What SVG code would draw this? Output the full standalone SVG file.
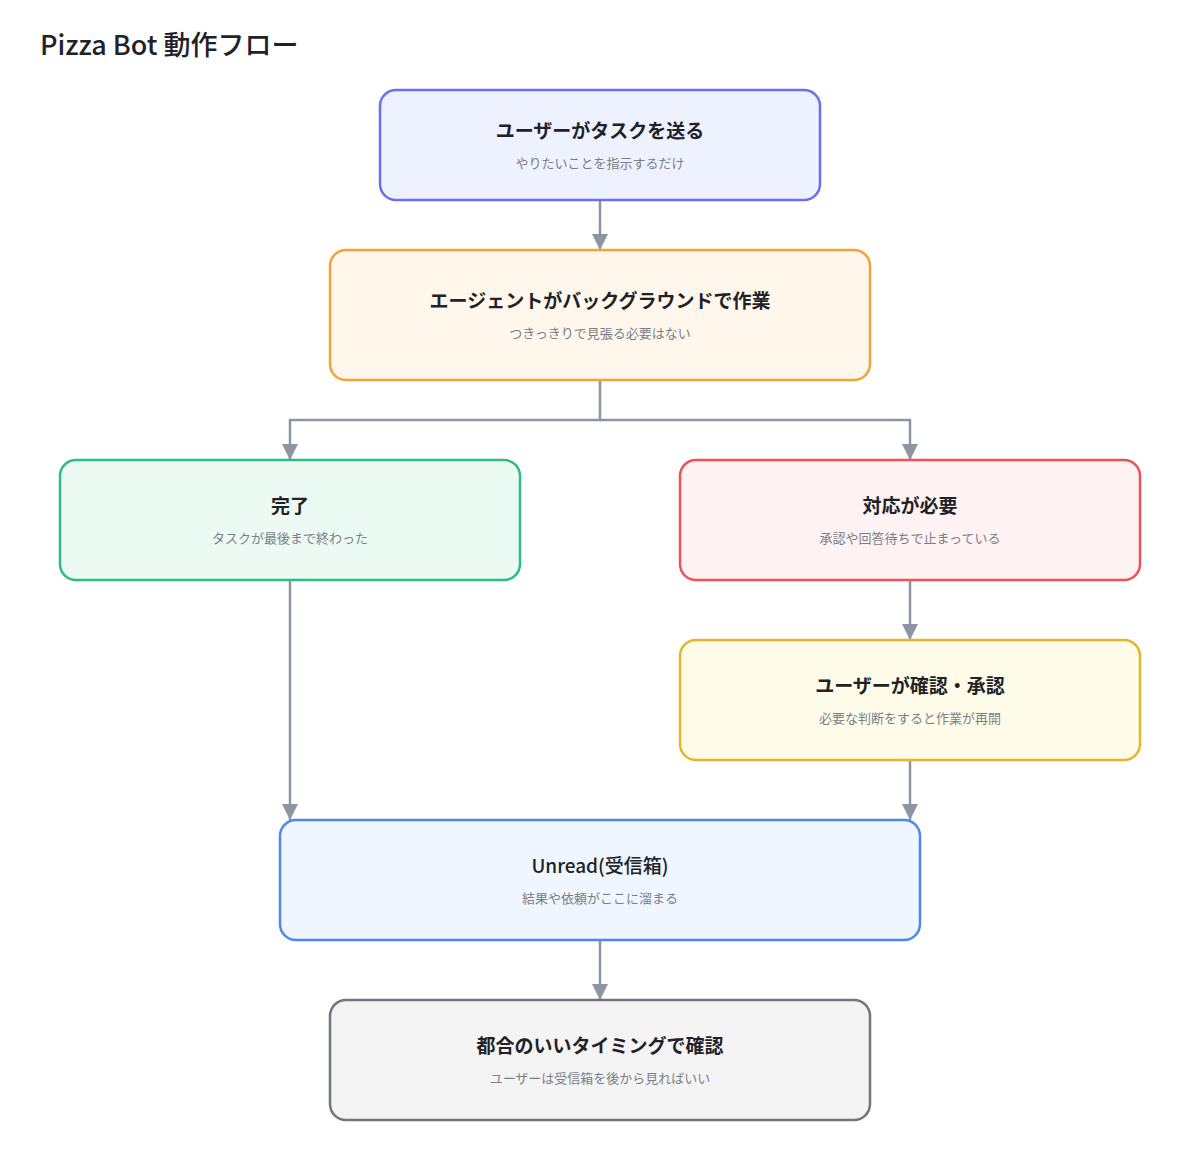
<svg xmlns="http://www.w3.org/2000/svg" width="1200" height="1150" viewBox="0 0 1200 1150">
<style>
.t{font-family:"Noto Sans CJK JP","Noto Sans",sans-serif;font-size:19px;font-weight:bold;fill:#1f2328;text-anchor:middle}
.s{font-family:"Noto Sans CJK JP","Noto Sans",sans-serif;font-size:13px;fill:#7a7f87;text-anchor:middle}
.e{fill:none;stroke:#8c96a3;stroke-width:2.5}
rect{stroke-width:2.5}
</style>
<defs><marker id="a" viewBox="0 0 10 10" refX="10" refY="5" markerWidth="6.5" markerHeight="6.5" markerUnits="userSpaceOnUse" orient="auto"><path d="M0,0L10,5L0,10z" fill="#8c96a3" transform="scale(1)"/></marker>
<marker id="b" viewBox="0 0 16 16" refX="16" refY="8" markerWidth="16" markerHeight="16" markerUnits="userSpaceOnUse" orient="auto"><path d="M0,0L16,8L0,16z" fill="#8c96a3"/></marker></defs>
<rect width="1200" height="1150" fill="#fff"/>
<text x="40" y="55" style="font-family:'Noto Sans CJK JP','Noto Sans',sans-serif;font-size:27px;font-weight:500" fill="#1f2328">Pizza Bot 動作フロー</text>
<g id="edges">
<path class="e" d="M600,200V250" marker-end="url(#b)"/>
<path class="e" d="M600,380V420H290V460" marker-end="url(#b)"/>
<path class="e" d="M600,420H910V460" marker-end="url(#b)"/>
<path class="e" d="M910,580V640" marker-end="url(#b)"/>
<path class="e" d="M290,580V820" marker-end="url(#b)"/>
<path class="e" d="M910,760V820" marker-end="url(#b)"/>
<path class="e" d="M600,940V1000" marker-end="url(#b)"/>
</g>
<g id="n1"><rect x="380" y="90" width="440" height="110" rx="16" fill="#eef2ff" stroke="#6c6ef0"/><text class="t" x="600" y="138">ユーザーがタスクを送る</text><text class="s" x="600" y="168">やりたいことを指示するだけ</text></g>
<g id="n2"><rect x="330" y="250" width="540" height="130" rx="16" fill="#fff7ec" stroke="#f0a33a"/><text class="t" x="600" y="308">エージェントがバックグラウンドで作業</text><text class="s" x="600" y="338">つきっきりで見張る必要はない</text></g>
<g id="n3"><rect x="60" y="460" width="460" height="120" rx="16" fill="#ebfbf3" stroke="#2fbb84"/><text class="t" x="290" y="513">完了</text><text class="s" x="290" y="543">タスクが最後まで終わった</text></g>
<g id="n4"><rect x="680" y="460" width="460" height="120" rx="16" fill="#fef2f2" stroke="#ec5358"/><text class="t" x="910" y="513">対応が必要</text><text class="s" x="910" y="543">承認や回答待ちで止まっている</text></g>
<g id="n5"><rect x="680" y="640" width="460" height="120" rx="16" fill="#fefce8" stroke="#e6b52c"/><text class="t" x="910" y="693">ユーザーが確認・承認</text><text class="s" x="910" y="723">必要な判断をすると作業が再開</text></g>
<g id="n6"><rect x="280" y="820" width="640" height="120" rx="16" fill="#eff6ff" stroke="#4d88ee"/><text class="t" x="600" y="873" style="font-weight:500">Unread(受信箱)</text><text class="s" x="600" y="903">結果や依頼がここに溜まる</text></g>
<g id="n7"><rect x="330" y="1000" width="540" height="120" rx="16" fill="#f4f4f5" stroke="#71757d"/><text class="t" x="600" y="1053">都合のいいタイミングで確認</text><text class="s" x="600" y="1083">ユーザーは受信箱を後から見ればいい</text></g>
</svg>
